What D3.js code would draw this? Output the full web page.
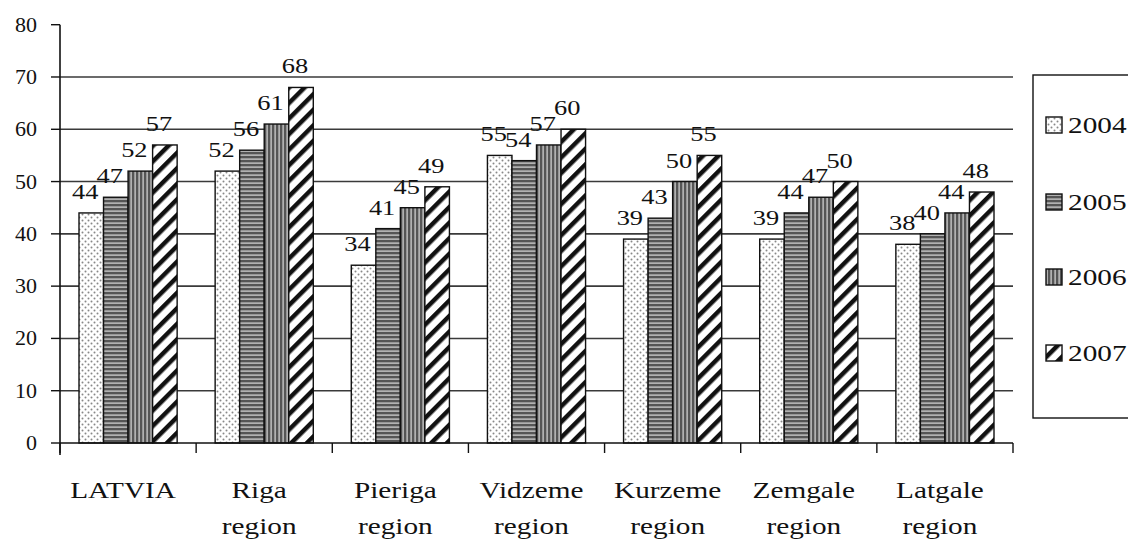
<!DOCTYPE html>
<html><head><meta charset="utf-8">
<script src="https://cdn.jsdelivr.net/npm/d3@7"></script>
</head><body style="margin:0"><svg id="c" width="1128" height="540" font-family="Liberation Serif"></svg>
<script>
const categories = [["LATVIA"],["Riga","region"],["Pieriga","region"],["Vidzeme","region"],["Kurzeme","region"],["Zemgale","region"],["Latgale","region"]];
const years = ["2004","2005","2006","2007"];
const v2004 = [44,52,34,55,39,39,38];
const v2005 = [47,56,41,54,43,44,40];
const v2006 = [52,61,45,57,50,47,44];
const v2007 = [57,68,49,60,55,50,48];
const yTicks = [0,10,20,30,40,50,60,70,80];
const seriesVals = [v2004,v2005,v2006,v2007];

const svg = d3.select("#c");
function label(sel){ return sel.attr("font-family","Liberation Serif").style("font-family","Liberation Serif, Tinos, FreeSerif, serif"); }
const defs = svg.append("defs");
let p = defs.append("pattern").attr("id","p0").attr("patternUnits","userSpaceOnUse").attr("width",6).attr("height",6);
p.append("rect").attr("width",6).attr("height",6).attr("fill","#fff");
p.append("circle").attr("cx",1.5).attr("cy",1.5).attr("r",1).attr("fill","#888");
p.append("circle").attr("cx",4.5).attr("cy",4.5).attr("r",1).attr("fill","#888");
p = defs.append("pattern").attr("id","p1").attr("patternUnits","userSpaceOnUse").attr("width",4).attr("height",4);
p.append("rect").attr("width",4).attr("height",4).attr("fill","#555");
p.append("rect").attr("y",2.5).attr("width",4).attr("height",1.2).attr("fill","#d8d8d8");
p = defs.append("pattern").attr("id","p2").attr("patternUnits","userSpaceOnUse").attr("width",4).attr("height",4);
p.append("rect").attr("width",4).attr("height",4).attr("fill","#555");
p.append("rect").attr("x",2.5).attr("width",1.2).attr("height",4).attr("fill","#d8d8d8");
p = defs.append("pattern").attr("id","p3").attr("patternUnits","userSpaceOnUse").attr("width",11).attr("height",11).attr("patternTransform","rotate(-45)");
p.append("rect").attr("width",11).attr("height",11).attr("fill","#fff");
p.append("rect").attr("width",11).attr("height",4.5).attr("fill","#111");

const x0 = d3.scaleBand().domain(d3.range(categories.length)).range([60,1013]).paddingInner(0).paddingOuter(0);
const x1 = d3.scaleBand().domain(d3.range(years.length)).range([19, x0.bandwidth()-19]);
const y = d3.scaleLinear().domain([0,80]).range([443,24.7]);

svg.append("g").selectAll("line").data(yTicks.filter(t=>t>0 && t<80)).join("line")
  .attr("x1",60).attr("x2",1013).attr("y1",d=>y(d)).attr("y2",d=>y(d))
  .attr("stroke","#3a3a3a").attr("stroke-width",1.6);

const g = svg.append("g");
categories.forEach((c,i)=>{
  seriesVals.forEach((vals,s)=>{
    const bx = x0(i)+x1(s), bw = x1.bandwidth();
    g.append("rect").attr("x",bx).attr("y",y(vals[i])).attr("width",bw).attr("height",y(0)-y(vals[i]))
      .attr("fill",`url(#p${s})`).attr("stroke","#111").attr("stroke-width",1.4);
  });
});
categories.forEach((c,i)=>{
  seriesVals.forEach((vals,s)=>{
    const cx = x0(i)+x1(s)+x1.bandwidth()/2 - 6;
    const by = y(vals[i]) - 14;
    label(svg.append("text")).attr("transform",`translate(${cx},${by}) scale(1.2,1)`)
      .attr("fill","#111").attr("text-anchor","middle").attr("font-size",22).text(vals[i]);
  });
});

const ya = svg.append("g");
ya.selectAll("line").data(yTicks).join("line")
  .attr("x1",51).attr("x2",60).attr("y1",d=>y(d)).attr("y2",d=>y(d)).attr("stroke","#111").attr("stroke-width",1.4);
label(ya.selectAll("text").data(yTicks).join("text"))
  .attr("x",37).attr("y",d=>y(d)+7).attr("text-anchor","end")
  .attr("font-size",22).attr("fill","#111").text(d=>d);
svg.append("line").attr("x1",60).attr("x2",60).attr("y1",y(80)).attr("y2",455).attr("stroke","#111").attr("stroke-width",1.6);

svg.append("line").attr("x1",60).attr("x2",1013).attr("y1",y(0)).attr("y2",y(0)).attr("stroke","#111").attr("stroke-width",1.6);
const xb = d3.range(categories.length+1).map(i=> i<categories.length ? x0(i) : x0.range()[1]);
svg.append("g").selectAll("line").data(xb).join("line")
  .attr("x1",d=>d).attr("x2",d=>d).attr("y1",y(0)).attr("y2",y(0)+10).attr("stroke","#111").attr("stroke-width",1.4);

categories.forEach((c,i)=>{
  const cx = x0(i)+x0.bandwidth()/2 - 5;
  c.forEach((line,k)=>{
    label(svg.append("text")).attr("transform",`translate(${cx},${498+k*36}) scale(1.22,1)`)
      .attr("fill","#111").attr("text-anchor","middle").attr("font-size",24).text(line);
  });
});

svg.append("rect").attr("x",1033).attr("y",75).attr("width",110).attr("height",343)
  .attr("fill","#fff").attr("stroke","#111").attr("stroke-width",1.4);
const legY = [125,202,277,353];
years.forEach((yr,s)=>{
  svg.append("rect").attr("x",1046).attr("y",legY[s]-8).attr("width",16).attr("height",16)
    .attr("fill",`url(#p${s})`).attr("stroke","#111").attr("stroke-width",1.4);
  label(svg.append("text")).attr("transform",`translate(1068,${legY[s]+8}) scale(1.22,1)`)
    .attr("fill","#111").attr("font-size",24).text(yr);
});
</script></body></html>
